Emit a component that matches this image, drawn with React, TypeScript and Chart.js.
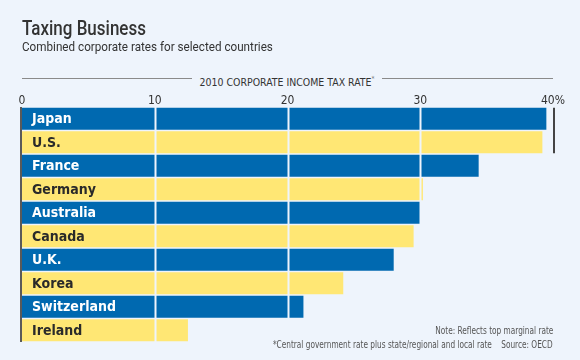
import React, { useEffect, useRef } from "react";
import { Chart, registerables } from "chart.js";
Chart.register(...registerables);

const countries = ["Japan", "U.S.", "France", "Germany", "Australia", "Canada", "U.K.", "Korea", "Switzerland", "Ireland"];
const rates = [39.5, 39.2, 34.4, 30.2, 30.0, 29.5, 28.0, 24.2, 21.2, 12.5];
const tickValues = [0, 10, 20, 30, 40];
const tickLabels = ["0", "10", "20", "30", "40%"];
const gridValues = [10, 20, 30];
const markerValue = 40;
const markerRows = ["Japan", "U.S."];

const BG = "#eef4fc";
const BLUE = "#0069b0";
const YELLOW = "#ffe774";
const COND = '"DejaVu Sans Condensed", "Liberation Sans Narrow", sans-serif';

const overlayPlugin = {
  id: "overlay",
  afterDatasetsDraw(chart: any) {
    const { ctx, chartArea, scales } = chart;
    const x = scales.x;
    const meta = chart.getDatasetMeta(0);
    ctx.save();
    ctx.strokeStyle = BG;
    ctx.lineWidth = 2;
    gridValues.forEach((v) => {
      const px = Math.round(x.getPixelForValue(v)) + 0.5;
      ctx.beginPath();
      ctx.moveTo(px, chartArea.top);
      ctx.lineTo(px, chartArea.bottom);
      ctx.stroke();
    });
    ctx.strokeStyle = "#5a5a5a";
    ctx.lineWidth = 2;
    ctx.beginPath();
    ctx.moveTo(chartArea.left - 1, chartArea.top);
    ctx.lineTo(chartArea.left - 1, chartArea.bottom);
    ctx.stroke();
    const first = meta.data[countries.indexOf(markerRows[0])];
    const last = meta.data[countries.indexOf(markerRows[markerRows.length - 1])];
    const mx = x.getPixelForValue(markerValue) + 1;
    ctx.strokeStyle = "#444";
    ctx.beginPath();
    ctx.moveTo(mx, first.y - first.height / 2);
    ctx.lineTo(mx, last.y + last.height / 2);
    ctx.stroke();
    ctx.font = `bold 14px ${COND}`;
    ctx.textBaseline = "middle";
    ctx.textAlign = "left";
    meta.data.forEach((el: any, i: number) => {
      ctx.fillStyle = i % 2 === 0 ? "#ffffff" : "#2a2a2a";
      ctx.fillText(countries[i], chartArea.left + 10, el.y + 1);
    });
    ctx.restore();
  },
};

export default function App() {
  const ref = useRef<HTMLCanvasElement>(null);
  useEffect(() => {
    const chart = new Chart(ref.current!, {
      type: "bar",
      data: {
        labels: countries,
        datasets: [
          {
            data: rates,
            backgroundColor: countries.map((_, i) => (i % 2 === 0 ? BLUE : YELLOW)),
            borderWidth: 0,
            barPercentage: 0.93,
            categoryPercentage: 1,
          },
        ],
      },
      options: {
        indexAxis: "y",
        animation: false,
        responsive: false,
        layout: { padding: { left: 22, right: 27, top: 88, bottom: 18 } },
        plugins: { legend: { display: false }, tooltip: { enabled: false } },
        scales: {
          y: { display: false },
          x: {
            position: "top",
            min: 0,
            max: 40,
            grid: { display: false, drawTicks: false, tickLength: 0 },
            border: { display: false },
            afterBuildTicks: (s: any) => {
              s.ticks = tickValues.map((v) => ({ value: v }));
            },
            afterFit: (s: any) => {
              s.height = 19;
            },
            ticks: {
              padding: -1,
              color: "#333",
              font: { family: COND, size: 12 },
              maxRotation: 0,
              callback: (_v: any, i: number) => tickLabels[i],
            },
          },
        },
      },
      plugins: [overlayPlugin],
    } as any);
    return () => chart.destroy();
  }, []);

  const text: React.CSSProperties = { position: "absolute", whiteSpace: "nowrap", fontFamily: COND, color: "#333" };
  return (
    <div style={{ position: "absolute", left: 0, top: 0, width: 580, height: 360, background: BG, overflow: "hidden" }}>
      <canvas ref={ref} width={580} height={360} style={{ position: "absolute", left: 0, top: 0 }} />
      <div style={{ ...text, left: 22, top: 16, fontSize: 20, fontWeight: 500, fontFamily: "Roboto, sans-serif", color: "#333", transform: "scaleX(0.85)", transformOrigin: "left" }}>Taxing Business</div>
      <div style={{ ...text, left: 22, top: 38, fontSize: 13.5, fontFamily: "Roboto, sans-serif", color: "#333", transform: "scaleX(0.865)", transformOrigin: "left" }}>Combined corporate rates for selected countries</div>
      <div style={{ position: "absolute", left: 22, top: 78, width: 531, height: 1, background: "#8a8a8a" }} />
      <div style={{ ...text, left: 22, width: 531, top: 71, textAlign: "center" }}>
        <span style={{ background: BG, padding: "0 8px", fontSize: 11, color: "#333", display: "inline-block", transform: "scaleX(0.95)" }}>
          2010 CORPORATE INCOME TAX RATE<sup style={{ fontSize: 7, color: "#777" }}>*</sup>
        </span>
      </div>
      <div style={{ ...text, right: 27, top: 324, fontSize: 10.5, color: "#555", transform: "scaleX(0.78)", transformOrigin: "right" }}>Note: Reflects top marginal rate</div>
      <div style={{ ...text, right: 27, top: 338, fontSize: 10.5, color: "#555", transform: "scaleX(0.78)", transformOrigin: "right" }}>
        *Central government rate plus state/regional and local rate&nbsp;&nbsp;&nbsp;&nbsp;Source: OECD
      </div>
    </div>
  );
}
